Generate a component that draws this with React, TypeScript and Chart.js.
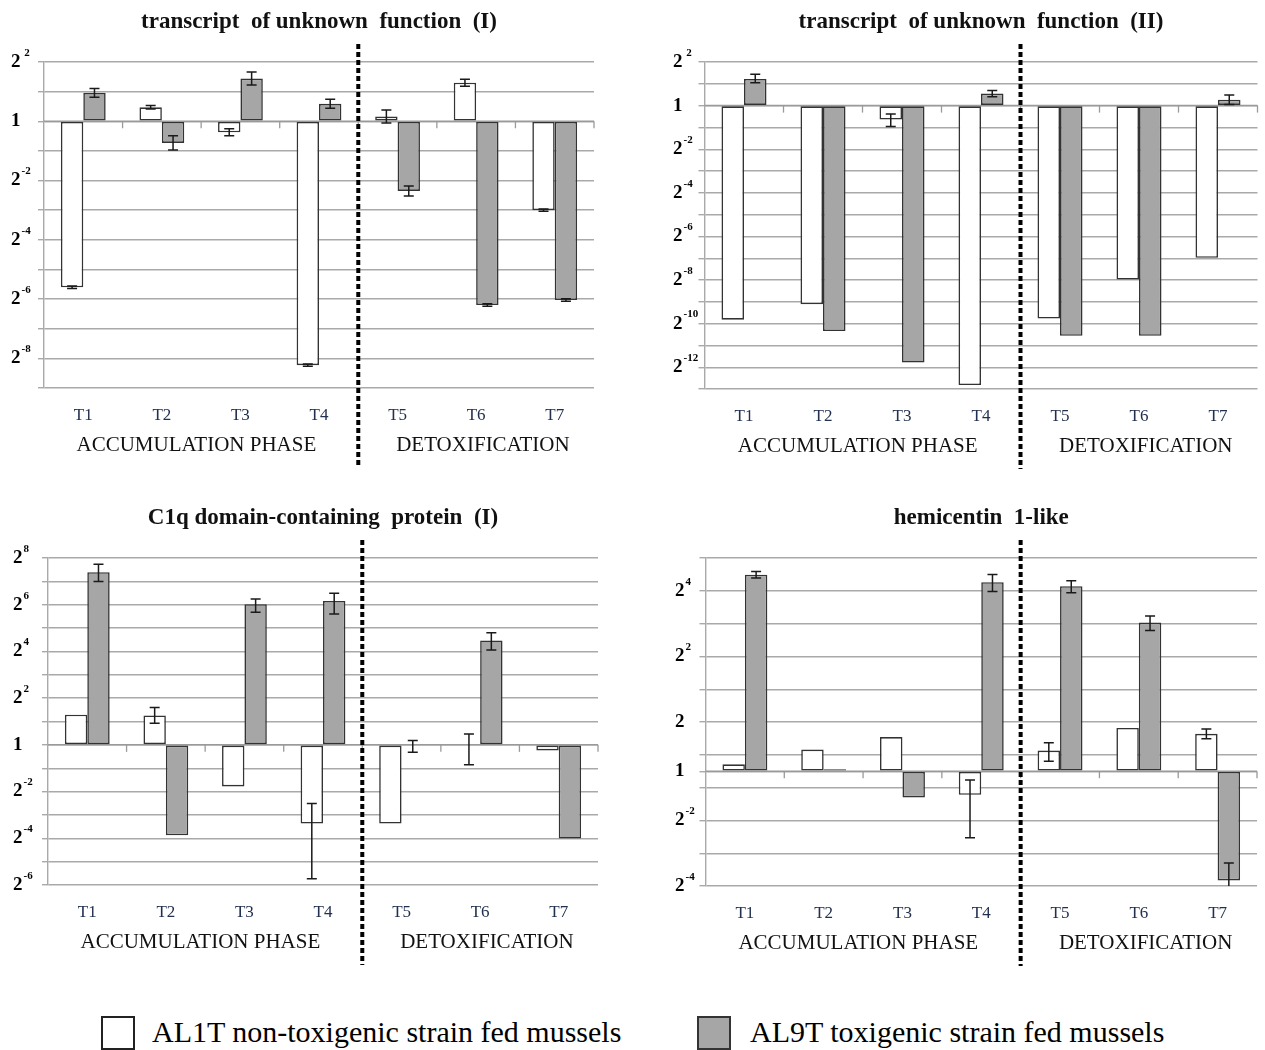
import React, { useEffect, useRef } from 'react';
import { Chart, registerables } from 'chart.js';
Chart.register(...registerables);

// ---------- shared data ----------
const categories = ['T1', 'T2', 'T3', 'T4', 'T5', 'T6', 'T7'];
const seriesNames = ['AL1T non-toxigenic strain fed mussels', 'AL9T toxigenic strain fed mussels'];
const phaseLabels = ['ACCUMULATION PHASE', 'DETOXIFICATION'];

// ---------- panel 1: transcript of unknown function (I) (log2 units) ----------
const p1Title = 'transcript  of unknown  function  (I)';
const p1White = [-5.6, 0.47, -0.37, -8.23, 0.16, 1.3, -3.0];
const p1WhiteErrUp = [0.04, 0.06, 0.12, 0.04, 0.22, 0.12, 0.04];
const p1WhiteErrDown = [0.04, 0.06, 0.12, 0.04, 0.22, 0.12, 0.04];
const p1Gray = [0.96, -0.73, 1.44, 0.59, -2.35, -6.2, -6.03];
const p1GrayErrUp = [0.15, 0.24, 0.22, 0.15, 0.17, 0.04, 0.04];
const p1GrayErrDown = [0.15, 0.24, 0.22, 0.15, 0.17, 0.04, 0.04];
const p1TickValues = [2, 0, -2, -4, -6, -8];
const p1TickLabels = ['2^ 2', '1', '2^-2', '2^-4', '2^-6', '2^-8'];
const p1Range = [-9, 2];

// ---------- panel 2: transcript of unknown function (II) ----------
const p2Title = 'transcript  of unknown  function  (II)';
const p2White = [-9.82, -9.11, -0.64, -12.82, -9.77, -7.98, -6.98];
const p2WhiteErrUp = [null, null, 0.26, null, null, null, null];
const p2WhiteErrDown = [null, null, 0.32, null, null, null, null];
const p2Gray = [1.22, -10.34, -11.79, 0.55, -10.56, -10.56, 0.27];
const p2GrayErrUp = [0.22, null, null, 0.14, null, null, 0.22];
const p2GrayErrDown = [0.17, null, null, 0.14, null, null, 0.22];
const p2TickValues = [2, 0, -2, -4, -6, -8, -10, -12];
const p2TickLabels = ['2^ 2', '1', '2^-2', '2^-4', '2^-6', '2^-8', '2^-10', '2^-12'];
const p2Range = [-13, 2];

// ---------- panel 3: C1q domain-containing protein (I) ----------
const p3Title = 'C1q domain-containing  protein  (I)';
const p3White = [1.29, 1.26, -1.78, -3.37, -3.37, 0, -0.24];
const p3WhiteErrUp = [null, 0.34, null, 0.86, null, 0.47, null];
const p3WhiteErrDown = [null, 0.34, null, 2.36, null, 0.85, null];
const p3Gray = [7.39, -3.87, 6.02, 6.16, 0, 4.47, -4.01];
const p3GrayErrUp = [0.34, null, 0.22, 0.33, 0.19, 0.33, null];
const p3GrayErrDown = [0.4, null, 0.34, 0.56, 0.32, 0.41, null];
const p3TickValues = [8, 6, 4, 2, 0, -2, -4, -6];
const p3TickLabels = ['2^8', '2^6', '2^4', '2^2', '1', '2^-2', '2^-4', '2^-6'];
const p3Range = [-6, 8];

// ---------- panel 4: hemicentin 1-like ----------
const p4Title = 'hemicentin  1-like';
const p4White = [0.21, 0.66, 1.04, -0.72, 0.63, 1.32, 1.14];
const p4WhiteErrUp = [null, null, null, 0.45, 0.24, null, 0.15];
const p4WhiteErrDown = [null, null, null, 1.31, 0.33, null, 0.15];
const p4Gray = [5.99, 0.06, -0.8, 5.76, 5.64, 4.53, -3.33];
const p4GrayErrUp = [0.1, null, null, 0.24, 0.17, 0.2, 0.53];
const p4GrayErrDown = [0.1, null, null, 0.28, 0.2, 0.24, 0.5];
const p4TickValues = [5.5, 3.5, 1.5, 0, -1.5, -3.5];
const p4TickLabels = ['2^4', '2^2', '2', '1', '2^-2', '2^-4'];
const p4Range = [-3.5, 6.5];

// ---------- styles / layout ----------
const SERIF = '"Liberation Serif", "Times New Roman", serif';
const WHITE_FILL = '#ffffff';
const GRAY_FILL = '#a6a6a6';
const BAR_BORDER = '#333333';
const GRID = '#a9a9a9';
const TICK_COLOR = '#22304f';

const panels = [
  { title: p1Title, white: p1White, wUp: p1WhiteErrUp, wDn: p1WhiteErrDown, gray: p1Gray, gUp: p1GrayErrUp, gDn: p1GrayErrDown,
    tickValues: p1TickValues, tickLabels: p1TickLabels, range: p1Range,
    box: { left: 0, top: 0, width: 632, height: 480 }, area: { left: 44, right: 594, top: 62, bottom: 388 }, labelLeft: 11 },
  { title: p2Title, white: p2White, wUp: p2WhiteErrUp, wDn: p2WhiteErrDown, gray: p2Gray, gUp: p2GrayErrUp, gDn: p2GrayErrDown,
    tickValues: p2TickValues, tickLabels: p2TickLabels, range: p2Range,
    box: { left: 640, top: 0, width: 625, height: 480 }, area: { left: 64.5, right: 617.5, top: 62, bottom: 389 }, labelLeft: 33 },
  { title: p3Title, white: p3White, wUp: p3WhiteErrUp, wDn: p3WhiteErrDown, gray: p3Gray, gUp: p3GrayErrUp, gDn: p3GrayErrDown,
    tickValues: p3TickValues, tickLabels: p3TickLabels, range: p3Range,
    box: { left: 0, top: 490, width: 632, height: 490 }, area: { left: 48, right: 598, top: 68, bottom: 395 }, labelLeft: 13 },
  { title: p4Title, white: p4White, wUp: p4WhiteErrUp, wDn: p4WhiteErrDown, gray: p4Gray, gUp: p4GrayErrUp, gDn: p4GrayErrDown,
    tickValues: p4TickValues, tickLabels: p4TickLabels, range: p4Range,
    box: { left: 640, top: 490, width: 625, height: 490 }, area: { left: 65.5, right: 617, top: 68, bottom: 396 }, labelLeft: 35 },
];

function buildGridValues(range: number[], tickValues: number[]) {
  const vals: number[] = [];
  for (let v = range[0]; v <= range[1] + 1e-9; v += 1) vals.push(v);
  tickValues.forEach((t) => { if (!vals.some((v) => Math.abs(v - t) < 1e-9)) vals.push(t); });
  return vals.sort((a, b) => a - b);
}

function makeDecoPlugin(p: any) {
  return {
    id: 'panelDeco',
    beforeDatasetsDraw(chart: any) {
      const { ctx, chartArea: a, scales } = chart;
      const y0 = scales.y.getPixelForValue(0);
      const xs = categories.map((_, i) => scales.x.getPixelForValue(i));
      const cw = xs[1] - xs[0];
      ctx.save();
      ctx.strokeStyle = '#9a9a9a';
      ctx.lineWidth = 1.5;
      ctx.beginPath();
      ctx.moveTo(a.left, y0);
      ctx.lineTo(a.right, y0);
      ctx.stroke();
      ctx.lineWidth = 1.3;
      xs.forEach((x) => {
        const bx = x + cw / 2;
        ctx.beginPath();
        ctx.moveTo(bx, y0);
        ctx.lineTo(bx, y0 + 7);
        ctx.stroke();
      });
      ctx.restore();
    },
    afterDatasetsDraw(chart: any) {
      const { ctx, chartArea: a, scales } = chart;
      const sets = [
        { vals: p.white, up: p.wUp, dn: p.wDn },
        { vals: p.gray, up: p.gUp, dn: p.gDn },
      ];
      ctx.save();
      ctx.beginPath();
      ctx.rect(a.left - 20, a.top - 30, a.right - a.left + 40, a.bottom - a.top + 30);
      ctx.clip();
      ctx.strokeStyle = '#1a1a1a';
      ctx.lineWidth = 1.5;
      sets.forEach((s, d) => {
        const meta = chart.getDatasetMeta(d);
        s.vals.forEach((v: number, i: number) => {
          const u = s.up[i];
          const dn = s.dn[i];
          if (u == null || dn == null) return;
          const x = meta.data[i].x;
          const yt = scales.y.getPixelForValue(v + u);
          const yb = scales.y.getPixelForValue(v - dn);
          const cap = 5;
          ctx.beginPath();
          ctx.moveTo(x, yt); ctx.lineTo(x, yb);
          ctx.moveTo(x - cap, yt); ctx.lineTo(x + cap, yt);
          ctx.moveTo(x - cap, yb); ctx.lineTo(x + cap, yb);
          ctx.stroke();
        });
      });
      ctx.restore();
    },
    afterDraw(chart: any) {
      const { ctx, chartArea: a, scales } = chart;
      const xs = categories.map((_, i) => scales.x.getPixelForValue(i));
      const divX = (xs[3] + xs[4]) / 2;
      ctx.save();
      // y tick labels: base "2" with raised exponent, positioned by the y scale
      ctx.fillStyle = '#000';
      ctx.textAlign = 'left';
      ctx.textBaseline = 'middle';
      p.tickValues.forEach((v: number, i: number) => {
        const y = scales.y.getPixelForValue(v);
        const [base, exp] = String(p.tickLabels[i]).split('^');
        ctx.font = `bold 19px ${SERIF}`;
        ctx.fillText(base, p.labelLeft, y);
        if (exp) {
          const bw = ctx.measureText(base).width;
          ctx.font = `bold 11px ${SERIF}`;
          ctx.fillText(exp, p.labelLeft + bw + 1, y - 9);
        }
      });
      // dotted phase divider
      ctx.strokeStyle = '#000';
      ctx.lineWidth = 4;
      ctx.setLineDash([5, 3]);
      ctx.beginPath();
      ctx.moveTo(divX, a.top - 18);
      ctx.lineTo(divX, a.bottom + 80);
      ctx.stroke();
      ctx.setLineDash([]);
      // title
      ctx.fillStyle = '#111';
      ctx.textAlign = 'center';
      ctx.textBaseline = 'middle';
      ctx.font = `bold 23px ${SERIF}`;
      ctx.fillText(p.title, (a.left + a.right) / 2, a.top - 40);
      // phase labels
      ctx.font = `21px ${SERIF}`;
      const w = a.right - a.left;
      ctx.fillText(phaseLabels[0], a.left + 0.277 * w, a.bottom + 57);
      ctx.fillText(phaseLabels[1], a.left + 0.798 * w, a.bottom + 57);
      ctx.restore();
    },
  };
}

function Panel({ p }: { p: any }) {
  const ref = useRef<HTMLCanvasElement>(null);
  useEffect(() => {
    if (!ref.current) return;
    const gridValues = buildGridValues(p.range, p.tickValues);
    const yw = p.area.left - p.labelLeft;
    const xh = p.box.height - p.area.bottom;
    const chart = new Chart(ref.current, {
      type: 'bar',
      data: {
        labels: categories,
        datasets: [
          { label: seriesNames[0], data: p.white, backgroundColor: WHITE_FILL, borderColor: BAR_BORDER, borderWidth: 1.6, borderSkipped: false,
            categoryPercentage: 0.57, barPercentage: 1.0 },
          { label: seriesNames[1], data: p.gray, backgroundColor: GRAY_FILL, borderColor: BAR_BORDER, borderWidth: 1.6, borderSkipped: false,
            categoryPercentage: 0.57, barPercentage: 1.0 },
        ],
      },
      options: {
        responsive: false,
        animation: false,
        devicePixelRatio: 1,
        layout: { padding: { left: p.labelLeft, right: p.box.width - p.area.right, top: p.area.top, bottom: 0 } },
        plugins: { legend: { display: false }, tooltip: { enabled: false }, title: { display: false } },
        scales: {
          x: {
            type: 'category',
            grid: { display: false },
            border: { display: false },
            ticks: { color: TICK_COLOR, font: { family: SERIF, size: 17 }, padding: 9, maxRotation: 0, autoSkip: false },
            afterFit: (scale: any) => { scale.height = xh; },
          },
          y: {
            type: 'linear',
            min: p.range[0],
            max: p.range[1],
            afterBuildTicks: (scale: any) => { scale.ticks = gridValues.map((v) => ({ value: v })); },
            afterFit: (scale: any) => { scale.width = yw; },
            grid: { color: GRID, lineWidth: 1.4, drawTicks: true, tickLength: 6, tickColor: GRID },
            border: { display: true, color: GRID, width: 1.4 },
            ticks: { display: false, autoSkip: false },
          },
        },
      },
      plugins: [makeDecoPlugin(p)],
    } as any);
    return () => chart.destroy();
  }, [p]);
  return (
    <canvas
      ref={ref}
      width={p.box.width}
      height={p.box.height}
      style={{ position: 'absolute', left: p.box.left, top: p.box.top, width: p.box.width, height: p.box.height }}
    />
  );
}

export default function App() {
  return (
    <div style={{ position: 'absolute', left: 0, top: 0, width: 1265, height: 1050, background: '#fff', overflow: 'hidden' }}>
      {panels.map((p, i) => (
        <Panel key={i} p={p} />
      ))}
      <div style={{ position: 'absolute', left: 101, top: 1016, width: 30, height: 30, border: '2px solid #222', background: WHITE_FILL }} />
      <div style={{ position: 'absolute', left: 152, top: 1012, height: 40, lineHeight: '40px', fontFamily: SERIF, fontSize: 30, color: '#000', whiteSpace: 'nowrap' }}>
        {seriesNames[0]}
      </div>
      <div style={{ position: 'absolute', left: 697, top: 1016, width: 30, height: 30, border: '2px solid #333', background: GRAY_FILL }} />
      <div style={{ position: 'absolute', left: 750, top: 1012, height: 40, lineHeight: '40px', fontFamily: SERIF, fontSize: 30, color: '#000', whiteSpace: 'nowrap' }}>
        {seriesNames[1]}
      </div>
    </div>
  );
}
